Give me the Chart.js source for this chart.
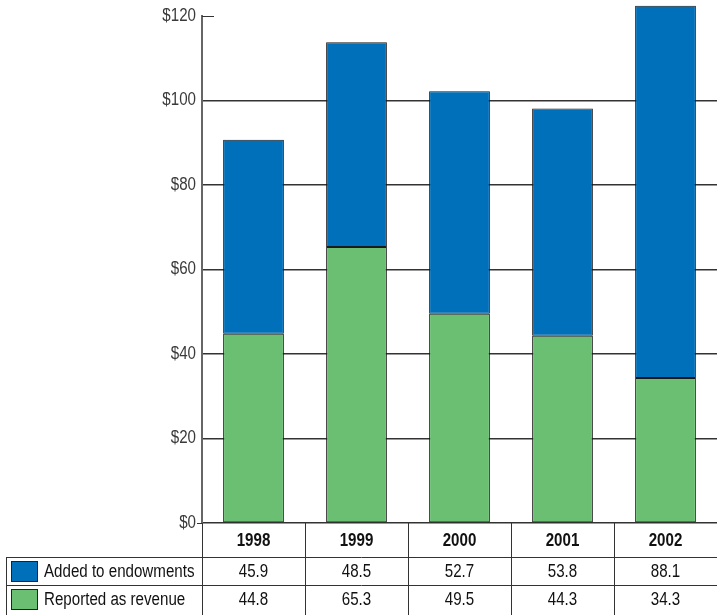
<!DOCTYPE html>
<html>
<head>
<meta charset="utf-8">
<script src="https://cdn.jsdelivr.net/npm/chart.js@4/dist/chart.umd.min.js"></script>
<style>
  html, body { margin: 0; padding: 0; background: #fff; }
  #wrap { width: 717px; height: 615px; }
</style>
</head>
<body>
<div id="wrap"><canvas id="chart" width="717" height="615"></canvas></div>
<script>
const years = ['1998', '1999', '2000', '2001', '2002'];
const endowments = [45.9, 48.5, 52.7, 53.8, 88.1];
const revenue = [44.8, 65.3, 49.5, 44.3, 34.3];
const seriesNames = ['Added to endowments', 'Reported as revenue'];
const yTicks = [0, 20, 40, 60, 80, 100, 120];
const BLUE = '#0070BA';
const GREEN = '#6BBF73';
const FONT = '"Liberation Sans", Arial, sans-serif';

// narrow text, like the condensed face of the original
function narrowText(ctx, text, x, y, align) {
    const sx = 0.84;
    ctx.save();
    ctx.translate(x, y);
    ctx.scale(sx, 1);
    ctx.textAlign = align;
    ctx.fillText(text, 0, 0);
    ctx.restore();
}

// draws y labels and the data table under the bars, lined up with the scales
const tablePlugin = {
    id: 'dataTable',
    afterDraw(chart) {
        const ctx = chart.ctx;
        const x = chart.scales.x;
        const yS = chart.scales.y;
        const area = chart.chartArea;
        const colW = x.width / years.length;
        const top = area.bottom;
        const row1 = top + 34, row2 = row1 + 28, end = 615;
        const leftEdge = 6;

        ctx.save();
        ctx.strokeStyle = '#333';
        ctx.lineWidth = 1;
        ctx.textBaseline = 'middle';

        // y labels
        ctx.fillStyle = '#3a3a3a';
        ctx.font = '18px ' + FONT;
        yTicks.forEach(v => {
            narrowText(ctx, '$' + v, area.left - 6, yS.getPixelForValue(v), 'right');
        });

        // stub at the top of the y axis and the base line
        ctx.beginPath();
        ctx.moveTo(area.left, area.top + 0.5);
        ctx.lineTo(area.left + 12, area.top + 0.5);
        ctx.moveTo(area.left - 5, top + 0.5);
        ctx.lineTo(area.left, top + 0.5);
        ctx.stroke();

        // horizontal rules
        ctx.beginPath();
        ctx.moveTo(leftEdge, row1 + 0.5);
        ctx.lineTo(area.right, row1 + 0.5);
        ctx.moveTo(leftEdge, row2 + 0.5);
        ctx.lineTo(area.right, row2 + 0.5);
        ctx.stroke();

        // vertical rules
        ctx.beginPath();
        ctx.moveTo(leftEdge + 0.5, row1);
        ctx.lineTo(leftEdge + 0.5, end);
        years.forEach((y, i) => {
            const bx = Math.round(x.getPixelForValue(i) - colW / 2) + 0.5;
            ctx.moveTo(bx, top);
            ctx.lineTo(bx, end);
        });
        ctx.stroke();

        ctx.fillStyle = '#111';
        ctx.font = 'bold 18px ' + FONT;
        years.forEach((y, i) => {
            narrowText(ctx, y, x.getPixelForValue(i), (top + row1) / 2 + 1, 'center');
        });

        ctx.font = '18px ' + FONT;
        [endowments, revenue].forEach((vals, r) => {
            const cy = r === 0 ? (row1 + row2) / 2 + 1 : (row2 + end) / 2;
            vals.forEach((v, i) => {
                narrowText(ctx, v.toFixed(1), x.getPixelForValue(i), cy, 'center');
            });
        });

        // legend cells
        [BLUE, GREEN].forEach((c, r) => {
            const ry = r === 0 ? row1 : row2;
            ctx.fillStyle = c;
            ctx.fillRect(leftEdge + 5, ry + 4, 26, 20);
            ctx.strokeStyle = '#222';
            ctx.strokeRect(leftEdge + 5.5, ry + 4.5, 26, 20);
            ctx.fillStyle = '#111';
            narrowText(ctx, seriesNames[r], leftEdge + 38, ry + 15, 'left');
        });
        ctx.restore();
    }
};

const barStyle = {
    borderColor: '#1a1a1a',
    borderWidth: 1,
    borderSkipped: false,
    barPercentage: 0.59,
    categoryPercentage: 1,
    clip: false
};

new Chart(document.getElementById('chart'), {
    type: 'bar',
    data: {
        labels: years,
        datasets: [
            Object.assign({ label: seriesNames[1], data: revenue, backgroundColor: GREEN }, barStyle),
            Object.assign({ label: seriesNames[0], data: endowments, backgroundColor: BLUE }, barStyle)
        ]
    },
    options: {
        responsive: false,
        animation: false,
        layout: { padding: { top: 16, right: 0, bottom: 92, left: 0 } },
        plugins: {
            legend: { display: false },
            tooltip: { enabled: false }
        },
        scales: {
            x: {
                stacked: true,
                display: false
            },
            y: {
                stacked: true,
                min: 0,
                max: 120,
                ticks: { stepSize: 20, display: false },
                grid: {
                    color: ctx => ctx.tick && ctx.tick.value === 120 ? 'rgba(0,0,0,0)' : '#333',
                    lineWidth: 1.5,
                    drawTicks: false
                },
                border: { color: '#666', width: 2 },
                afterFit: s => { s.width = 202; }
            }
        }
    },
    plugins: [tablePlugin]
});
</script>
</body>
</html>
